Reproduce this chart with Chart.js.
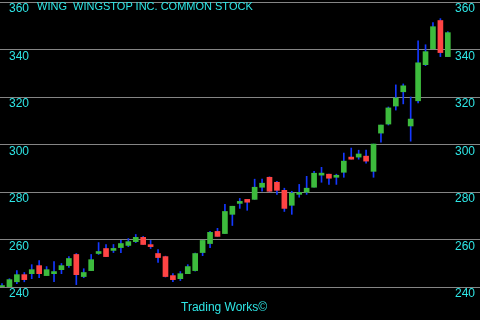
<!DOCTYPE html>
<html>
<head>
<meta charset="utf-8">
<script src="https://cdn.jsdelivr.net/npm/chart.js@4.4.1/dist/chart.umd.min.js"></script>
<style>
  html, body { margin: 0; padding: 0; background: #000; }
  #wrap { position: relative; width: 480px; height: 320px; background: #000; }
  #titulo { position: absolute; left: 37px; top: 0px; font: 11px "Liberation Sans", Arial, sans-serif; color: #2ee6e6; white-space: pre; }
  #rodape { position: absolute; left: 181px; top: 300px; font: 12px "Liberation Sans", Arial, sans-serif; color: #2ee6e6; }
</style>
</head>
<body>
<div id="wrap">
  <canvas id="chartWing" width="480" height="320"></canvas>
  <div id="titulo">WING  WINGSTOP INC. COMMON STOCK</div>
  <div id="rodape">Trading Works©</div>
</div>
<script>
// candles, da esquerda para a direita
const opens  = [238.9, 239.7, 242.2, 245.2, 245.6, 249.0, 244.8, 245.6, 247.3, 249.0,
                253.7, 244.4, 246.9, 254.1, 256.2, 255.4, 256.6, 257.5, 259.1, 260.9,
                257.2, 254.1, 252.8, 244.8, 243.5, 245.6, 246.9, 254.5, 258.3, 263.4,
                262.5, 270.6, 275.2, 276.9, 276.9, 282.0, 286.2, 284.1, 280.7, 274.4,
                279.0, 279.9, 282.0, 287.1, 287.5, 286.2, 288.3, 294.7, 294.7, 295.1,
                288.7, 304.8, 308.6, 316.2, 322.2, 307.8, 318.4, 333.6, 340.3, 352.2, 337.0];
const highs  = [241.4, 243.5, 246.9, 246.1, 249.4, 251.1, 248.6, 250.7, 249.9, 252.8,
                254.1, 247.7, 253.7, 258.7, 257.9, 257.9, 259.6, 260.4, 262.1, 261.3,
                259.6, 255.8, 253.0, 245.6, 246.5, 249.4, 254.3, 259.6, 263.4, 264.7,
                274.8, 274.0, 277.3, 276.9, 285.4, 285.4, 286.4, 284.5, 281.6, 280.3,
                283.2, 286.6, 288.7, 290.4, 287.5, 287.5, 296.4, 298.5, 297.6, 297.6,
                300.2, 308.2, 315.8, 325.1, 325.5, 320.0, 343.7, 342.0, 351.3, 353.0, 347.5];
const lows   = [238.4, 239.3, 241.4, 242.2, 243.5, 243.9, 244.8, 242.2, 245.6, 248.2,
                241.0, 243.9, 246.9, 253.7, 252.8, 254.5, 254.5, 257.0, 258.7, 257.9,
                256.2, 250.3, 244.2, 242.2, 242.7, 245.6, 246.7, 253.2, 256.6, 261.3,
                262.5, 265.9, 273.1, 272.3, 276.9, 280.3, 280.1, 279.0, 271.8, 270.6,
                277.8, 279.0, 282.0, 284.1, 283.2, 283.2, 286.2, 293.8, 293.8, 292.1,
                286.2, 301.0, 308.2, 314.5, 317.1, 301.4, 317.5, 333.2, 340.3, 337.0, 337.0];
const closes = [240.6, 243.1, 245.2, 243.1, 247.3, 245.6, 247.3, 246.5, 249.0, 252.0,
                245.2, 246.1, 251.5, 254.9, 252.8, 256.2, 258.3, 259.1, 260.9, 257.9,
                257.0, 252.4, 244.4, 243.1, 245.6, 248.6, 254.1, 259.6, 263.0, 261.3,
                271.8, 274.0, 275.7, 275.7, 282.0, 283.7, 280.3, 280.7, 273.1, 279.5,
                279.5, 281.6, 287.9, 287.9, 285.8, 286.6, 293.0, 293.8, 296.0, 293.0,
                300.2, 308.2, 315.4, 319.6, 324.7, 310.7, 334.4, 339.1, 349.6, 338.7, 347.1];
const dias = opens.map((_, i) => i);
const yTicks = [240, 260, 280, 300, 320, 340, 360];

const VERDE = '#3dbb3d';
const VERMELHO = '#ff4444';
const AZUL = '#1438ff';
const CIANO = '#2ee6e6';

const corpos = dias.map(i => ({ x: i, y: [opens[i], closes[i]] }));
const pavios = dias.map(i => ({ x: i, y: [lows[i], highs[i]] }));
const coresCorpo = dias.map(i => closes[i] >= opens[i] ? VERDE : VERMELHO);

// rótulos do eixo Y dos dois lados, dentro da área do gráfico
const rotulosY = {
    id: 'rotulosY',
    afterDraw(chart) {
        const { ctx, chartArea, scales } = chart;
        ctx.save();
        ctx.fillStyle = CIANO;
        ctx.font = '12px "Liberation Sans", Arial, sans-serif';
        ctx.textBaseline = 'middle';
        yTicks.forEach(v => {
            const y = scales.y.getPixelForValue(v) + 7;
            ctx.textAlign = 'left';
            ctx.fillText(String(v), chartArea.left + 9, y);
            ctx.textAlign = 'right';
            ctx.fillText(String(v), chartArea.right - 5, y);
        });
        ctx.restore();
    }
};

new Chart(document.getElementById('chartWing'), {
    type: 'bar',
    data: {
        datasets: [
            {
                data: corpos,
                backgroundColor: coresCorpo,
                barThickness: 5,
                minBarLength: 2,
                grouped: false,
                order: 0
            },
            {
                data: pavios,
                backgroundColor: AZUL,
                barThickness: 1,
                grouped: false,
                order: 1
            }
        ]
    },
    options: {
        responsive: false,
        animation: false,
        layout: { padding: { top: 2, bottom: 33, left: 0, right: 0 } },
        plugins: { legend: { display: false }, tooltip: { enabled: false } },
        scales: {
            x: { type: 'linear', min: -0.27, max: 64.33, offset: false, display: false },
            y: {
                type: 'linear',
                min: 240,
                max: 360,
                afterBuildTicks: axis => { axis.ticks = yTicks.map(v => ({ value: v })); },
                grid: { color: '#858585', lineWidth: 1, drawTicks: false },
                border: { display: false },
                ticks: { display: false }
            }
        }
    },
    plugins: [rotulosY]
});
</script>
</body>
</html>
